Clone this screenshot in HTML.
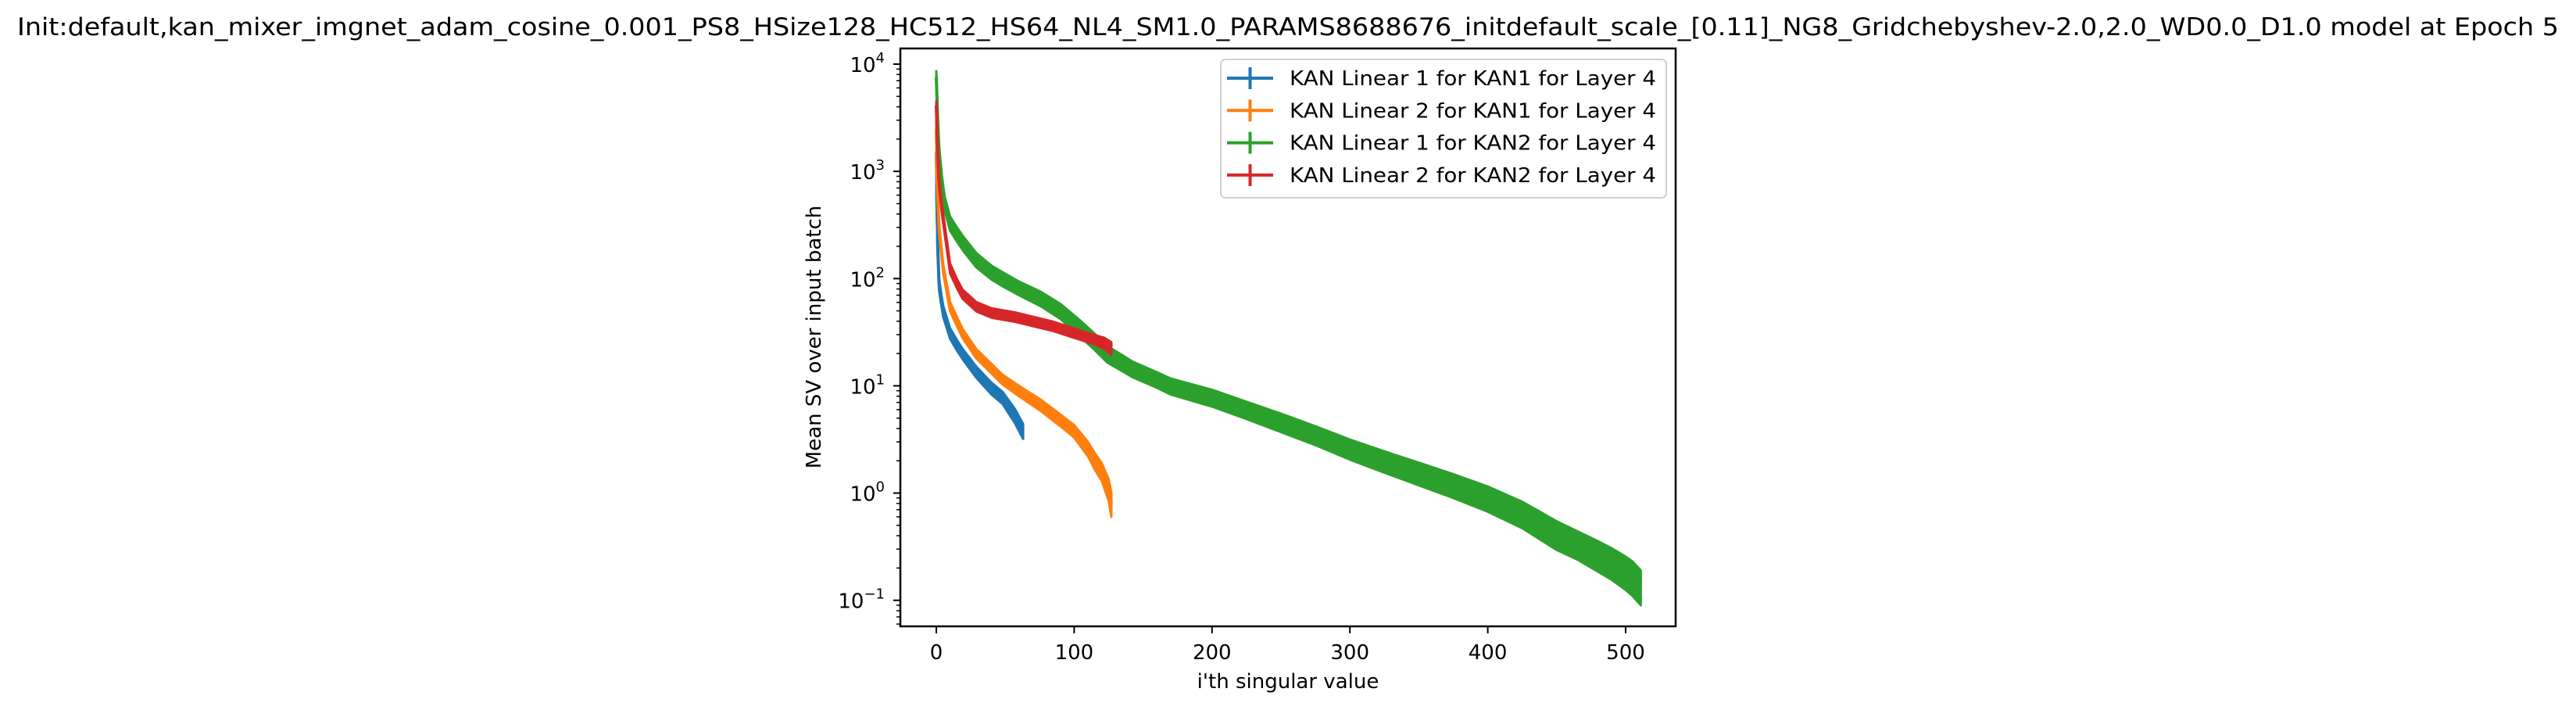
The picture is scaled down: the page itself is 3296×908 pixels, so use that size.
<!DOCTYPE html>
<html><head><meta charset="utf-8"><style>
html,body{margin:0;padding:0;background:#fff;}
svg{display:block;font-family:"DejaVu Sans","Liberation Sans",sans-serif;}
</style></head><body>
<svg id="chart" width="3296" height="908" viewBox="0 0 3296 908" xmlns="http://www.w3.org/2000/svg">
<rect width="3296" height="908" fill="#fff"/>
<text x="22" y="45" font-size="31" textLength="3252" lengthAdjust="spacingAndGlyphs">Init:default,kan_mixer_imgnet_adam_cosine_0.001_PS8_HSize128_HC512_HS64_NL4_SM1.0_PARAMS8688676_initdefault_scale_[0.11]_NG8_Gridchebyshev-2.0,2.0_WD0.0_D1.0 model at Epoch 5</text>
<g id="plot"></g>
<g id="axes"></g>
<g id="legend"></g>
</svg>
<script>
// ---- data ----
const seriesNames = ["KAN Linear 1 for KAN1 for Layer 4","KAN Linear 2 for KAN1 for Layer 4","KAN Linear 1 for KAN2 for Layer 4","KAN Linear 2 for KAN2 for Layer 4"];
const seriesColors = ["#1f77b4","#ff7f0e","#2ca02c","#d62728"];
const blueIdx = [0,1,2,3,5,10,15,19,29,40,48,57,63];
const blueVal = [1500,200,90,72,50,31,24,20,13.5,9.5,7.8,5.3,3.8];
const blueErr = [900,30,12,9,6,3.5,2.7,2.2,1.6,1.2,1.0,0.8,0.6];
const orangeIdx = [0,1,2,5,10,19,29,48,60,76,90,100,110,115,120,125,127];
const orangeVal = [2500,600,300,125,55,31,20,11.5,9,6.6,4.8,3.8,2.6,2.0,1.6,1.1,0.8];
const orangeErr = [1500,60,30,12,5.5,3,2,1.2,1.0,0.8,0.6,0.5,0.4,0.35,0.3,0.25,0.2];
const greenIdx = [0,1,2,4,6,10,15,20,29,40,48,60,76,90,104,115,124,135,142,160,170,200,225,250,275,300,325,350,375,400,425,450,465,480,490,500,505,511];
const greenVal = [7500,3000,1550,800,510,330,260,210,150,115,100,82,65,50,35,26,20,16.5,14.5,11.5,10,7.8,6,4.6,3.5,2.6,2.0,1.55,1.2,0.91,0.65,0.42,0.34,0.27,0.23,0.19,0.17,0.14];
const greenErr = [1100,450,230,120,75,50,39,32,23,17,15,12,10,8,6,4.5,3.5,2.8,2.4,1.9,1.7,1.4,1.1,0.9,0.7,0.55,0.45,0.37,0.3,0.24,0.18,0.125,0.1,0.085,0.075,0.065,0.06,0.05];
const redIdx = [0,1,2,4,6,10,15,19,29,40,57,85,104,115,122,127];
const redVal = [4100,1500,800,450,295,125,90,72,55,48,44,36,30,27,25,22.5];
const redErr = [400,150,80,45,30,13,9,7,5.5,4.8,4.4,3.6,3,2.7,3,3];
const xTicks = [0,100,200,300,400,500];
const yTickExps = [-1,0,1,2,3,4];

// ---- scales ----
const AX = {l:1152,r:2144,t:62,b:801};
const x0px = 1198, xPer = (2080-1198)/500;
const y4px = 82, decade = (767.7-82)/5;
function xs(i){return x0px + i*xPer;}
function ys(v){return y4px + (4 - Math.log10(Math.max(v,1e-3)))*decade;}
const NS="http://www.w3.org/2000/svg";
function mk(tag,attrs,parent){const e=document.createElementNS(NS,tag);for(const k in attrs)e.setAttribute(k,attrs[k]);parent.appendChild(e);return e;}

const plot=document.getElementById('plot');
const clip=mk('clipPath',{id:'clipAx'},plot);
mk('rect',{x:AX.l,y:AX.t,width:AX.r-AX.l,height:AX.b-AX.t},clip);
const sets=[[blueIdx,blueVal,blueErr],[orangeIdx,orangeVal,orangeErr],[greenIdx,greenVal,greenErr],[redIdx,redVal,redErr]];
const snames=['series-kan1-linear1','series-kan1-linear2','series-kan2-linear1','series-kan2-linear2'];
sets.forEach((s,k)=>{
  const [ix,v,e]=s;
  const g=mk('g',{'clip-path':'url(#clipAx)'},plot);
  
  
  let up=[],lo=[];
  for(let j=0;j<ix.length;j++){
    up.push(xs(ix[j]).toFixed(1)+','+ys(v[j]+e[j]).toFixed(1));
    lo.unshift(xs(ix[j]).toFixed(1)+','+ys(Math.max(v[j]-e[j],v[j]*0.05)).toFixed(1));
  }
  const band=mk('polygon',{points:up.concat(lo).join(' '),fill:seriesColors[k],stroke:seriesColors[k],'stroke-width':3,'stroke-linejoin':'round'},g);
  
  
  const pts=ix.map((i,j)=>xs(i).toFixed(1)+','+ys(v[j]).toFixed(1)).join(' ');
  const ln=mk('polyline',{points:pts,fill:'none',stroke:seriesColors[k],'stroke-width':4,'stroke-linejoin':'round'},g);
  
  
});

// ---- axes ----
const axes=document.getElementById('axes');
const frame=mk('rect',{x:AX.l,y:AX.t,width:AX.r-AX.l,height:AX.b-AX.t,fill:'none',stroke:'#000','stroke-width':2.5},axes);


xTicks.forEach(t=>{
  const x=xs(t);
  mk('line',{x1:x,x2:x,y1:AX.b,y2:AX.b+9,stroke:'#000','stroke-width':2},axes);
  const tx=mk('text',{x:x,y:843,'font-size':26,'text-anchor':'middle'},axes);
  tx.textContent=t;
  
  
});
yTickExps.forEach(p=>{
  const y=ys(Math.pow(10,p));
  mk('line',{x1:AX.l-9,x2:AX.l,y1:y,y2:y,stroke:'#000','stroke-width':2},axes);
  const tx=mk('text',{x:AX.l-20,y:y+10,'font-size':26,'text-anchor':'end'},axes);
  
  
  const a=mk('tspan',{},tx);a.textContent='10';
  const b=mk('tspan',{dy:-12,'font-size':18},tx);b.textContent=(p<0?'\u2212':'')+Math.abs(p);
});
for(let p=-2;p<=4;p++){for(let m=2;m<=9;m++){
  const v=m*Math.pow(10,p);const y=ys(v);
  if(y<AX.t||y>AX.b)continue;
  mk('line',{x1:AX.l-5,x2:AX.l,y1:y,y2:y,stroke:'#000','stroke-width':1.5},axes);
}}
const xl=mk('text',{x:(AX.l+AX.r)/2,y:880,'font-size':26,'text-anchor':'middle'},axes);
xl.textContent="i'th singular value";


const yl=mk('text',{x:0,y:0,'font-size':26,'text-anchor':'middle',transform:'translate(1050,431) rotate(-90)'},axes);
yl.textContent="Mean SV over input batch";



// ---- legend ----
const leg=document.getElementById('legend');
const lb=mk('rect',{x:1562,y:76,width:570,height:177,rx:6,fill:'#fff','fill-opacity':0.8,stroke:'#d0d0d0','stroke-width':2},leg);


seriesNames.forEach((n,k)=>{
  const y=100+k*41.3;
  const g=mk('g',{},leg);
  
  
  mk('line',{x1:1570,x2:1629,y1:y,y2:y,stroke:seriesColors[k],'stroke-width':4},g);
  mk('line',{x1:1599.5,x2:1599.5,y1:y-14,y2:y+14,stroke:seriesColors[k],'stroke-width':4},g);
  const t=mk('text',{x:1650,y:y+9,'font-size':26,textLength:469,lengthAdjust:'spacingAndGlyphs'},g);
  t.textContent=n;
});
</script>
</body></html>
